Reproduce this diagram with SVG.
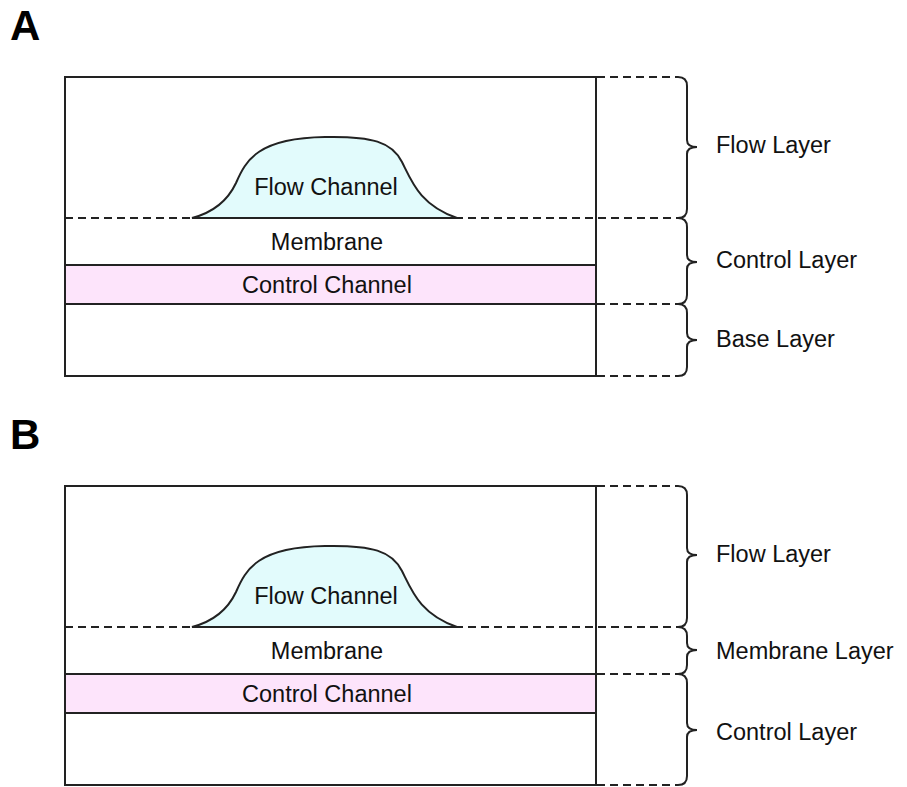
<svg xmlns="http://www.w3.org/2000/svg" width="907" height="787" viewBox="0 0 907 787">
<style>
.box{fill:#fff;stroke:#222;stroke-width:2}
.ctrl{fill:#fde4fb;stroke:#222;stroke-width:2}
.flow{fill:#e2fbfc;stroke:#222;stroke-width:2}
.dash{fill:none;stroke:#222;stroke-width:2;stroke-dasharray:8 5}
.brace{fill:none;stroke:#222;stroke-width:2}
.t{font-family:"Liberation Sans",Arial,sans-serif;font-size:23.5px;fill:#111}
.c{text-anchor:middle}
.big{font-family:"Liberation Sans",Arial,sans-serif;font-size:42px;font-weight:bold;fill:#000}
</style>
<text class="big" x="10" y="40">A</text>
<text class="big" x="10" y="449">B</text>

<g id="panelA">
  <g id="A-chip">
    <rect class="box" x="65" y="77" width="531" height="299"/>
    <rect class="ctrl" x="65" y="265" width="531" height="39"/>
    <line class="dash" x1="65" y1="218" x2="680" y2="218"/>
    <path class="flow" d="M192,218 C215,212 228,200 236,183 C246,160 258,138 325,137 C372,136 392,142 402,162 C412,182 420,205 457,218 Z"/>
    <text class="t c" x="326" y="195">Flow Channel</text>
    <text class="t c" x="327" y="250">Membrane</text>
    <text class="t c" x="327" y="293">Control Channel</text>
  </g>
  <g id="A-connectors">
    <line class="dash" x1="597" y1="77" x2="678" y2="77"/>
    <line class="dash" x1="597" y1="304" x2="678" y2="304"/>
    <line class="dash" x1="597" y1="376" x2="678" y2="376"/>
    <path class="brace" d="M678,77 Q687,77 687,86 L687,140 Q687,147 697,147 Q687,147 687,154 L687,209 Q687,218 678,218"/>
    <path class="brace" d="M678,218 Q687,218 687,227 L687,255 Q687,262 697,262 Q687,262 687,269 L687,295 Q687,304 678,304"/>
    <path class="brace" d="M678,304 Q687,304 687,313 L687,333 Q687,340 697,340 Q687,340 687,347 L687,367 Q687,376 678,376"/>
  </g>
  <text class="t" x="716" y="153">Flow Layer</text>
  <text class="t" x="716" y="268">Control Layer</text>
  <text class="t" x="716" y="347">Base Layer</text>
</g>

<g id="panelB">
  <g id="B-chip">
    <rect class="box" x="65" y="486" width="531" height="299"/>
    <rect class="ctrl" x="65" y="674" width="531" height="39"/>
    <line class="dash" x1="65" y1="627" x2="680" y2="627"/>
    <path class="flow" d="M192,627 C215,621 228,609 236,592 C246,569 258,547 325,546 C372,545 392,551 402,571 C412,591 420,614 457,627 Z"/>
    <text class="t c" x="326" y="604">Flow Channel</text>
    <text class="t c" x="327" y="659">Membrane</text>
    <text class="t c" x="327" y="702">Control Channel</text>
  </g>
  <g id="B-connectors">
    <line class="dash" x1="597" y1="486" x2="678" y2="486"/>
    <line class="dash" x1="597" y1="674" x2="678" y2="674"/>
    <line class="dash" x1="597" y1="785" x2="678" y2="785"/>
    <path class="brace" d="M678,486 Q687,486 687,495 L687,548 Q687,555 697,555 Q687,555 687,562 L687,618 Q687,627 678,627"/>
    <path class="brace" d="M678,627 Q687,627 687,636 L687,643 Q687,650 697,650 Q687,650 687,657 L687,665 Q687,674 678,674"/>
    <path class="brace" d="M678,674 Q687,674 687,683 L687,723 Q687,730 697,730 Q687,730 687,737 L687,776 Q687,785 678,785"/>
  </g>
  <text class="t" x="716" y="562">Flow Layer</text>
  <text class="t" x="716" y="659">Membrane Layer</text>
  <text class="t" x="716" y="740">Control Layer</text>
</g>
</svg>
